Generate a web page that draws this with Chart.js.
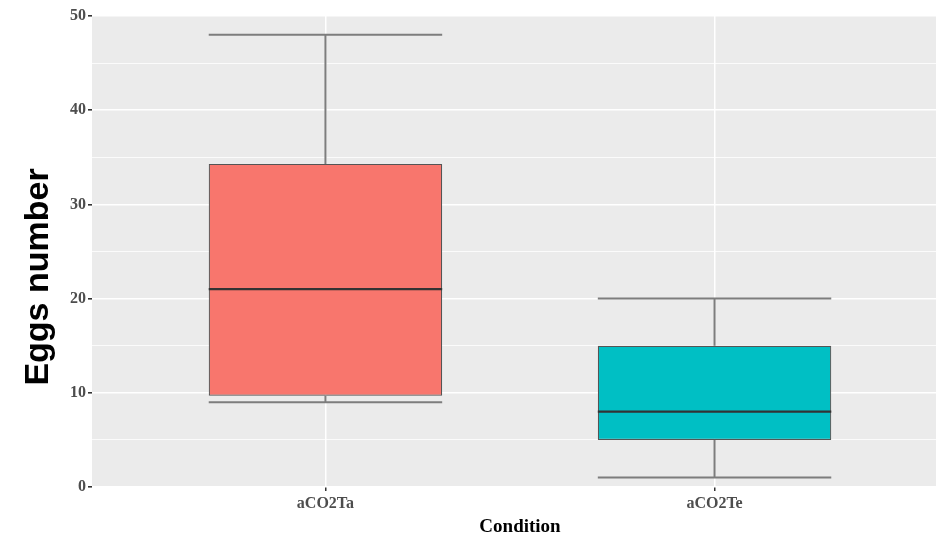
<!DOCTYPE html>
<html>
<head>
<meta charset="utf-8">
<script src="https://cdn.jsdelivr.net/npm/chart.js@4"></script>
<style>
html,body{margin:0;padding:0;background:#fff;overflow:hidden;}
#wrap{position:relative;width:948px;height:534px;}
</style>
</head>
<body>
<div id="wrap"><canvas id="c"></canvas></div>
<script>
// ---- data ----
const categories = ['aCO2Ta', 'aCO2Te'];
const whiskerLow = [9, 1];
const q1 = [9.7, 5];
const median = [21, 8];
const q3 = [34.3, 15];
const whiskerHigh = [48, 20];
const fillColors = ['#F8766D', '#00BFC4'];
const yTicks = [0, 10, 20, 30, 40, 50];
const xLabel = 'Condition';
const yLabel = 'Eggs number';

const HALF = 0.3; // half box width in category units

const boxData = categories.map((c, i) => ({ x: i + 1, y: [q1[i], q3[i]] }));
const whiskerPts = [];
categories.forEach((c, i) => {
  const x = i + 1;
  whiskerPts.push({ x: x - HALF, y: whiskerHigh[i] }, { x: x + HALF, y: whiskerHigh[i] }, { x: NaN, y: NaN });
  whiskerPts.push({ x: x, y: q3[i] }, { x: x, y: whiskerHigh[i] }, { x: NaN, y: NaN });
  whiskerPts.push({ x: x - HALF, y: whiskerLow[i] }, { x: x + HALF, y: whiskerLow[i] }, { x: NaN, y: NaN });
  whiskerPts.push({ x: x, y: whiskerLow[i] }, { x: x, y: q1[i] }, { x: NaN, y: NaN });
});
const medianPts = [];
categories.forEach((c, i) => {
  const x = i + 1;
  medianPts.push({ x: x - HALF, y: median[i] }, { x: x + HALF, y: median[i] }, { x: NaN, y: NaN });
});

const panelBg = {
  id: 'panelBg',
  beforeDraw(chart) {
    const a = chart.chartArea, ctx = chart.ctx;
    ctx.save();
    ctx.fillStyle = '#EBEBEB';
    ctx.fillRect(a.left, a.top, a.right - a.left, a.bottom - a.top);
    ctx.restore();
  },
  afterDraw(chart) {
    const a = chart.chartArea, ctx = chart.ctx;
    ctx.save();
    ctx.fillStyle = '#000';
    ctx.font = 'bold 19px "Liberation Serif", "Times New Roman", serif';
    ctx.textAlign = 'center';
    ctx.textBaseline = 'alphabetic';
    ctx.fillText(xLabel, (a.left + a.right) / 2, 532);
    ctx.translate(48, 277);
    ctx.rotate(-Math.PI / 2);
    ctx.font = 'bold 34px "Liberation Sans", Arial, sans-serif';
    ctx.textBaseline = 'alphabetic';
    ctx.fillText(yLabel, 0, 0);
    ctx.restore();
  }
};

new Chart(document.getElementById('c'), {
  data: {
    datasets: [
      {
        type: 'line',
        label: 'median',
        data: medianPts,
        borderColor: '#333333',
        borderWidth: 2.2,
        pointRadius: 0,
        spanGaps: false,
        order: 0
      },
      {
        type: 'bar',
        label: 'box',
        data: boxData,
        backgroundColor: fillColors,
        borderColor: '#555555',
        borderWidth: 1.2,
        borderSkipped: false,
        categoryPercentage: 1,
        barPercentage: 0.6,
        order: 1
      },
      {
        type: 'line',
        label: 'whiskers',
        data: whiskerPts,
        borderColor: '#7d7d7d',
        borderWidth: 2,
        pointRadius: 0,
        spanGaps: false,
        order: 2
      }
    ]
  },
  options: {
    responsive: true,
    maintainAspectRatio: false,
    animation: false,
    devicePixelRatio: 1,
    layout: { padding: { top: 16, right: 0, left: 0, bottom: 0 } },
    plugins: { legend: { display: false }, tooltip: { enabled: false } },
    scales: {
      x: {
        type: 'linear',
        min: 0.4,
        max: 2.6,
        offset: false,
        afterBuildTicks(scale) { scale.ticks = categories.map((c, i) => ({ value: i + 1 })); },
        afterFit(scale) { scale.height = 47; },
        border: { display: false },
        grid: { offset: false, color: '#ffffff', lineWidth: 1.5, tickColor: '#333333', tickLength: 4, drawTicks: true },
        ticks: {
          callback: (v) => categories[Math.round(v) - 1] || '',
          color: '#4d4d4d',
          font: { family: '"Liberation Serif", "Times New Roman", serif', size: 16, weight: 'bold' },
          padding: 3,
          maxRotation: 0,
          autoSkip: false
        }
      },
      y: {
        type: 'linear',
        min: 0,
        max: 50,
        afterBuildTicks(scale) {
          const t = [];
          for (let v = 0; v <= 50; v += 5) t.push({ value: v });
          scale.ticks = t;
        },
        afterFit(scale) { scale.width = 92; },
        border: { display: false },
        grid: {
          color: (ctx) => '#ffffff',
          lineWidth: (ctx) => (yTicks.includes(ctx.tick && ctx.tick.value) ? 1.6 : 0.8),
          tickColor: (ctx) => (yTicks.includes(ctx.tick && ctx.tick.value) ? '#333333' : 'rgba(0,0,0,0)'),
          tickLength: 4,
          drawTicks: true
        },
        ticks: {
          callback: (v) => (yTicks.includes(v) ? String(v) : ''),
          color: '#4d4d4d',
          font: { family: '"Liberation Serif", "Times New Roman", serif', size: 16, weight: 'bold' },
          padding: 2,
          autoSkip: false
        }
      }
    }
  },
  plugins: [panelBg]
});
</script>
</body>
</html>
